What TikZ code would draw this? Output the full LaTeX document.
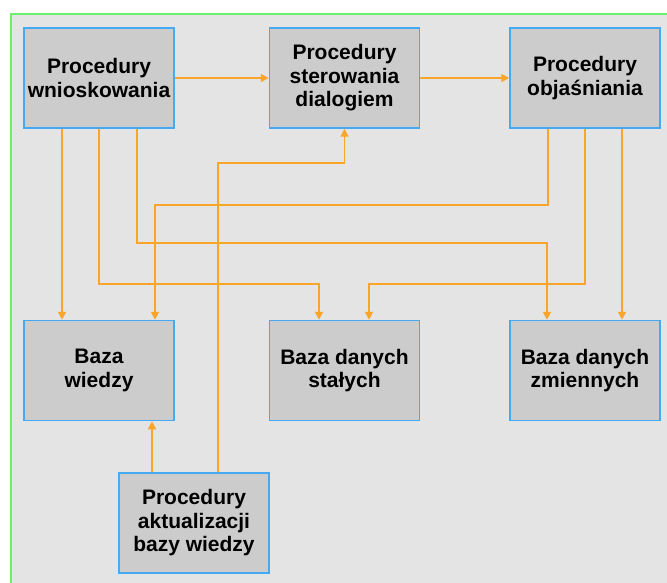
\documentclass[tikz,border=0pt]{standalone}
\usepackage{fontspec}
\setmainfont{Liberation Sans}
\usetikzlibrary{arrows.meta}
\definecolor{tlo}{HTML}{E4E4E4}
\definecolor{ramka}{HTML}{6CF06C}
\definecolor{wypel}{HTML}{CCCCCC}
\definecolor{brzeg}{HTML}{45AAF2}
\definecolor{pomar}{HTML}{F8A52A}

\begin{document}
\begin{tikzpicture}[x=1pt, y=-1pt,
  every node/.style={font=\bfseries\fontsize{21}{23.5}\selectfont},
  blok/.style={draw=brzeg, fill=wypel, line width=1.5pt, align=center,
    minimum width=150pt, minimum height=100pt, inner sep=0pt},
  link/.style={draw=pomar, line width=1.7pt, -{Triangle[length=8pt,width=8pt]}}]
\useasboundingbox (0,0) rectangle (667,583);
\fill[tlo] (11,14) rectangle (667,583);
\draw[ramka, line width=1.5pt] (11,583) -- (11,14) -- (667,14);
% gorny rzad
\node[blok] (pw)  at (99,78)  {Procedury\\wnioskowania};
\node[blok] (psd) at (344.5,78) {Procedury\\sterowania\\dialogiem};
\node[blok] (po)  at (585,78)   {Procedury\\objaśniania};
% bazy
\node[blok] (bw)  at (99,370.5)  {Baza\\wiedzy};
\node[blok] (bds) at (344.5,370.5) {Baza danych\\stałych};
\node[blok] (bdz) at (585,370.5)   {Baza danych\\zmiennych};
\node[blok] (pa)  at (194,523)     {Procedury\\aktualizacji\\bazy wiedzy};
% polaczenia
\draw[link] (pw.east) -- (psd.west);
\draw[link] (psd.east) -- (po.west);
\draw[link] ([xshift=-37pt]pw.south) -- ([xshift=-37pt]bw.north);
\draw[link] (pw.south) -- ++(0,155) -| ([xshift=-25.5pt]bds.north);
\draw[link] ([xshift=38pt]pw.south) -- ++(0,114) -| ([xshift=-38pt]bdz.north);
\draw[link] ([xshift=-37pt]po.south) -- ++(0,76) -| ([xshift=56pt]bw.north);
\draw[link] (po.south) -- ++(0,155) -| ([xshift=24.5pt]bds.north);
\draw[link] ([xshift=37pt]po.south) -- ([xshift=37pt]bdz.north);
\draw[link] ([xshift=24pt]pa.north) -- ++(0,-309) -| (psd.south);
\draw[link] ([xshift=-42pt]pa.north) -- ([xshift=53pt]bw.south);
\end{tikzpicture}
\end{document}
